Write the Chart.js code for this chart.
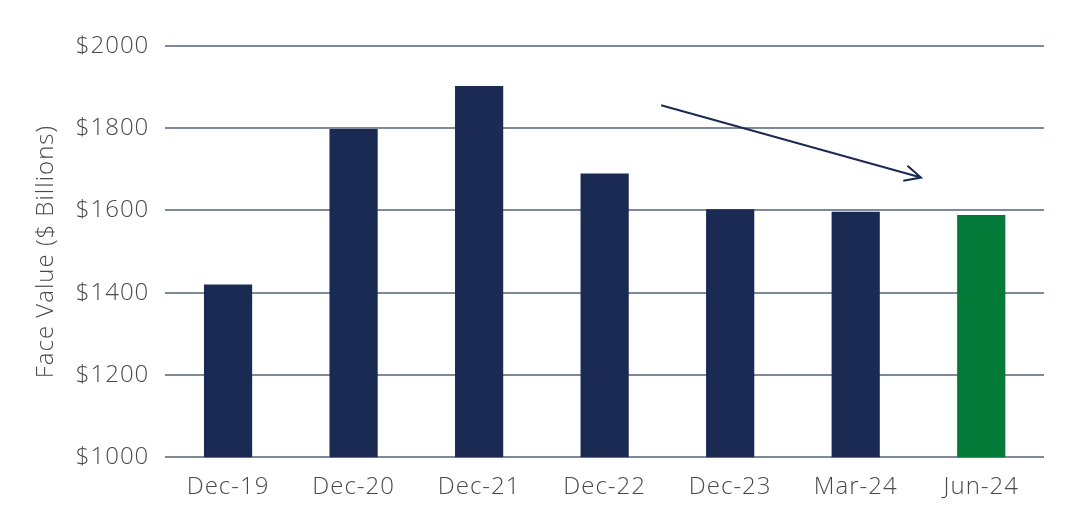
<!DOCTYPE html>
<html>
<head>
<meta charset="utf-8">
<script src="https://cdn.jsdelivr.net/npm/chart.js@4"></script>
<style>
  html, body { margin: 0; padding: 0; background: #fff; }
  #wrap { width: 1076px; height: 524px; position: relative; }
</style>
</head>
<body>
<div id="wrap"><canvas id="face-chart"></canvas></div>
<script>
const categories = ["Dec-19", "Dec-20", "Dec-21", "Dec-22", "Dec-23", "Mar-24", "Jun-24"];
const faceValues = [1420, 1798, 1903, 1690, 1603, 1597, 1589];
const barColors = ["#1b2a52", "#1b2a52", "#1b2a52", "#1b2a52", "#1b2a52", "#1b2a52", "#037a37"];
const yTicks = [1000, 1200, 1400, 1600, 1800, 2000];
// trend arrow, in data units: [category index, value]
const arrowFrom = [3.45, 1856];
const arrowTo = [5.52, 1680];

// wider letter spacing, the original font is a wide geometric one
const spacing = {
  id: "spacing",
  beforeInit(chart) { chart.ctx.letterSpacing = "1px"; },
  beforeDraw(chart) { chart.ctx.letterSpacing = "1px"; },
};

const trendArrow = {
  id: "trendArrow",
  afterDatasetsDraw(chart) {
    const { ctx, scales } = chart;
    const x1 = scales.x.getPixelForValue(arrowFrom[0]);
    const y1 = scales.y.getPixelForValue(arrowFrom[1]);
    const x2 = scales.x.getPixelForValue(arrowTo[0]);
    const y2 = scales.y.getPixelForValue(arrowTo[1]);
    const ang = Math.atan2(y2 - y1, x2 - x1);
    const head = 18;
    ctx.save();
    ctx.strokeStyle = "#1b2a52";
    ctx.lineWidth = 2;
    ctx.beginPath();
    ctx.moveTo(x1, y1);
    ctx.lineTo(x2, y2);
    ctx.moveTo(x2 - head * Math.cos(ang - 0.45), y2 - head * Math.sin(ang - 0.45));
    ctx.lineTo(x2, y2);
    ctx.lineTo(x2 - head * Math.cos(ang + 0.45), y2 - head * Math.sin(ang + 0.45));
    ctx.stroke();
    ctx.restore();
  },
};

const config = {
  type: "bar",
  data: {
    labels: categories,
    datasets: [
      {
        data: faceValues,
        backgroundColor: barColors,
        barPercentage: 0.384,
        categoryPercentage: 1,
      },
    ],
  },
  options: {
    responsive: true,
    maintainAspectRatio: false,
    animation: false,
    layout: { padding: { top: 46, right: 32, bottom: 14, left: 28 } },
    plugins: {
      legend: { display: false },
      tooltip: { enabled: false },
    },
    scales: {
      x: {
        grid: { display: false },
        border: { display: false },
        ticks: {
          color: "#4a4a4a",
          font: { family: "Open Sans", size: 24, weight: 300 },
          padding: 8,
        },
      },
      y: {
        min: 1000,
        max: 2000,
        afterBuildTicks: (axis) => {
          axis.ticks = yTicks.map((v) => ({ value: v }));
        },
        grid: { color: "#7d8a99", lineWidth: 2, drawTicks: false },
        border: { display: false },
        ticks: {
          color: "#4a4a4a",
          font: { family: "Open Sans", size: 24, weight: 300 },
          padding: 16,
          callback: (v) => "$" + v,
        },
        title: {
          display: true,
          text: "Face Value ($ Billions)",
          color: "#4a4a4a",
          font: { family: "Open Sans", size: 24, weight: 300 },
          padding: 4,
        },
      },
    },
  },
  plugins: [spacing, trendArrow],
};

const faceChart = new Chart(document.getElementById("face-chart"), config);
</script>
</body>
</html>
